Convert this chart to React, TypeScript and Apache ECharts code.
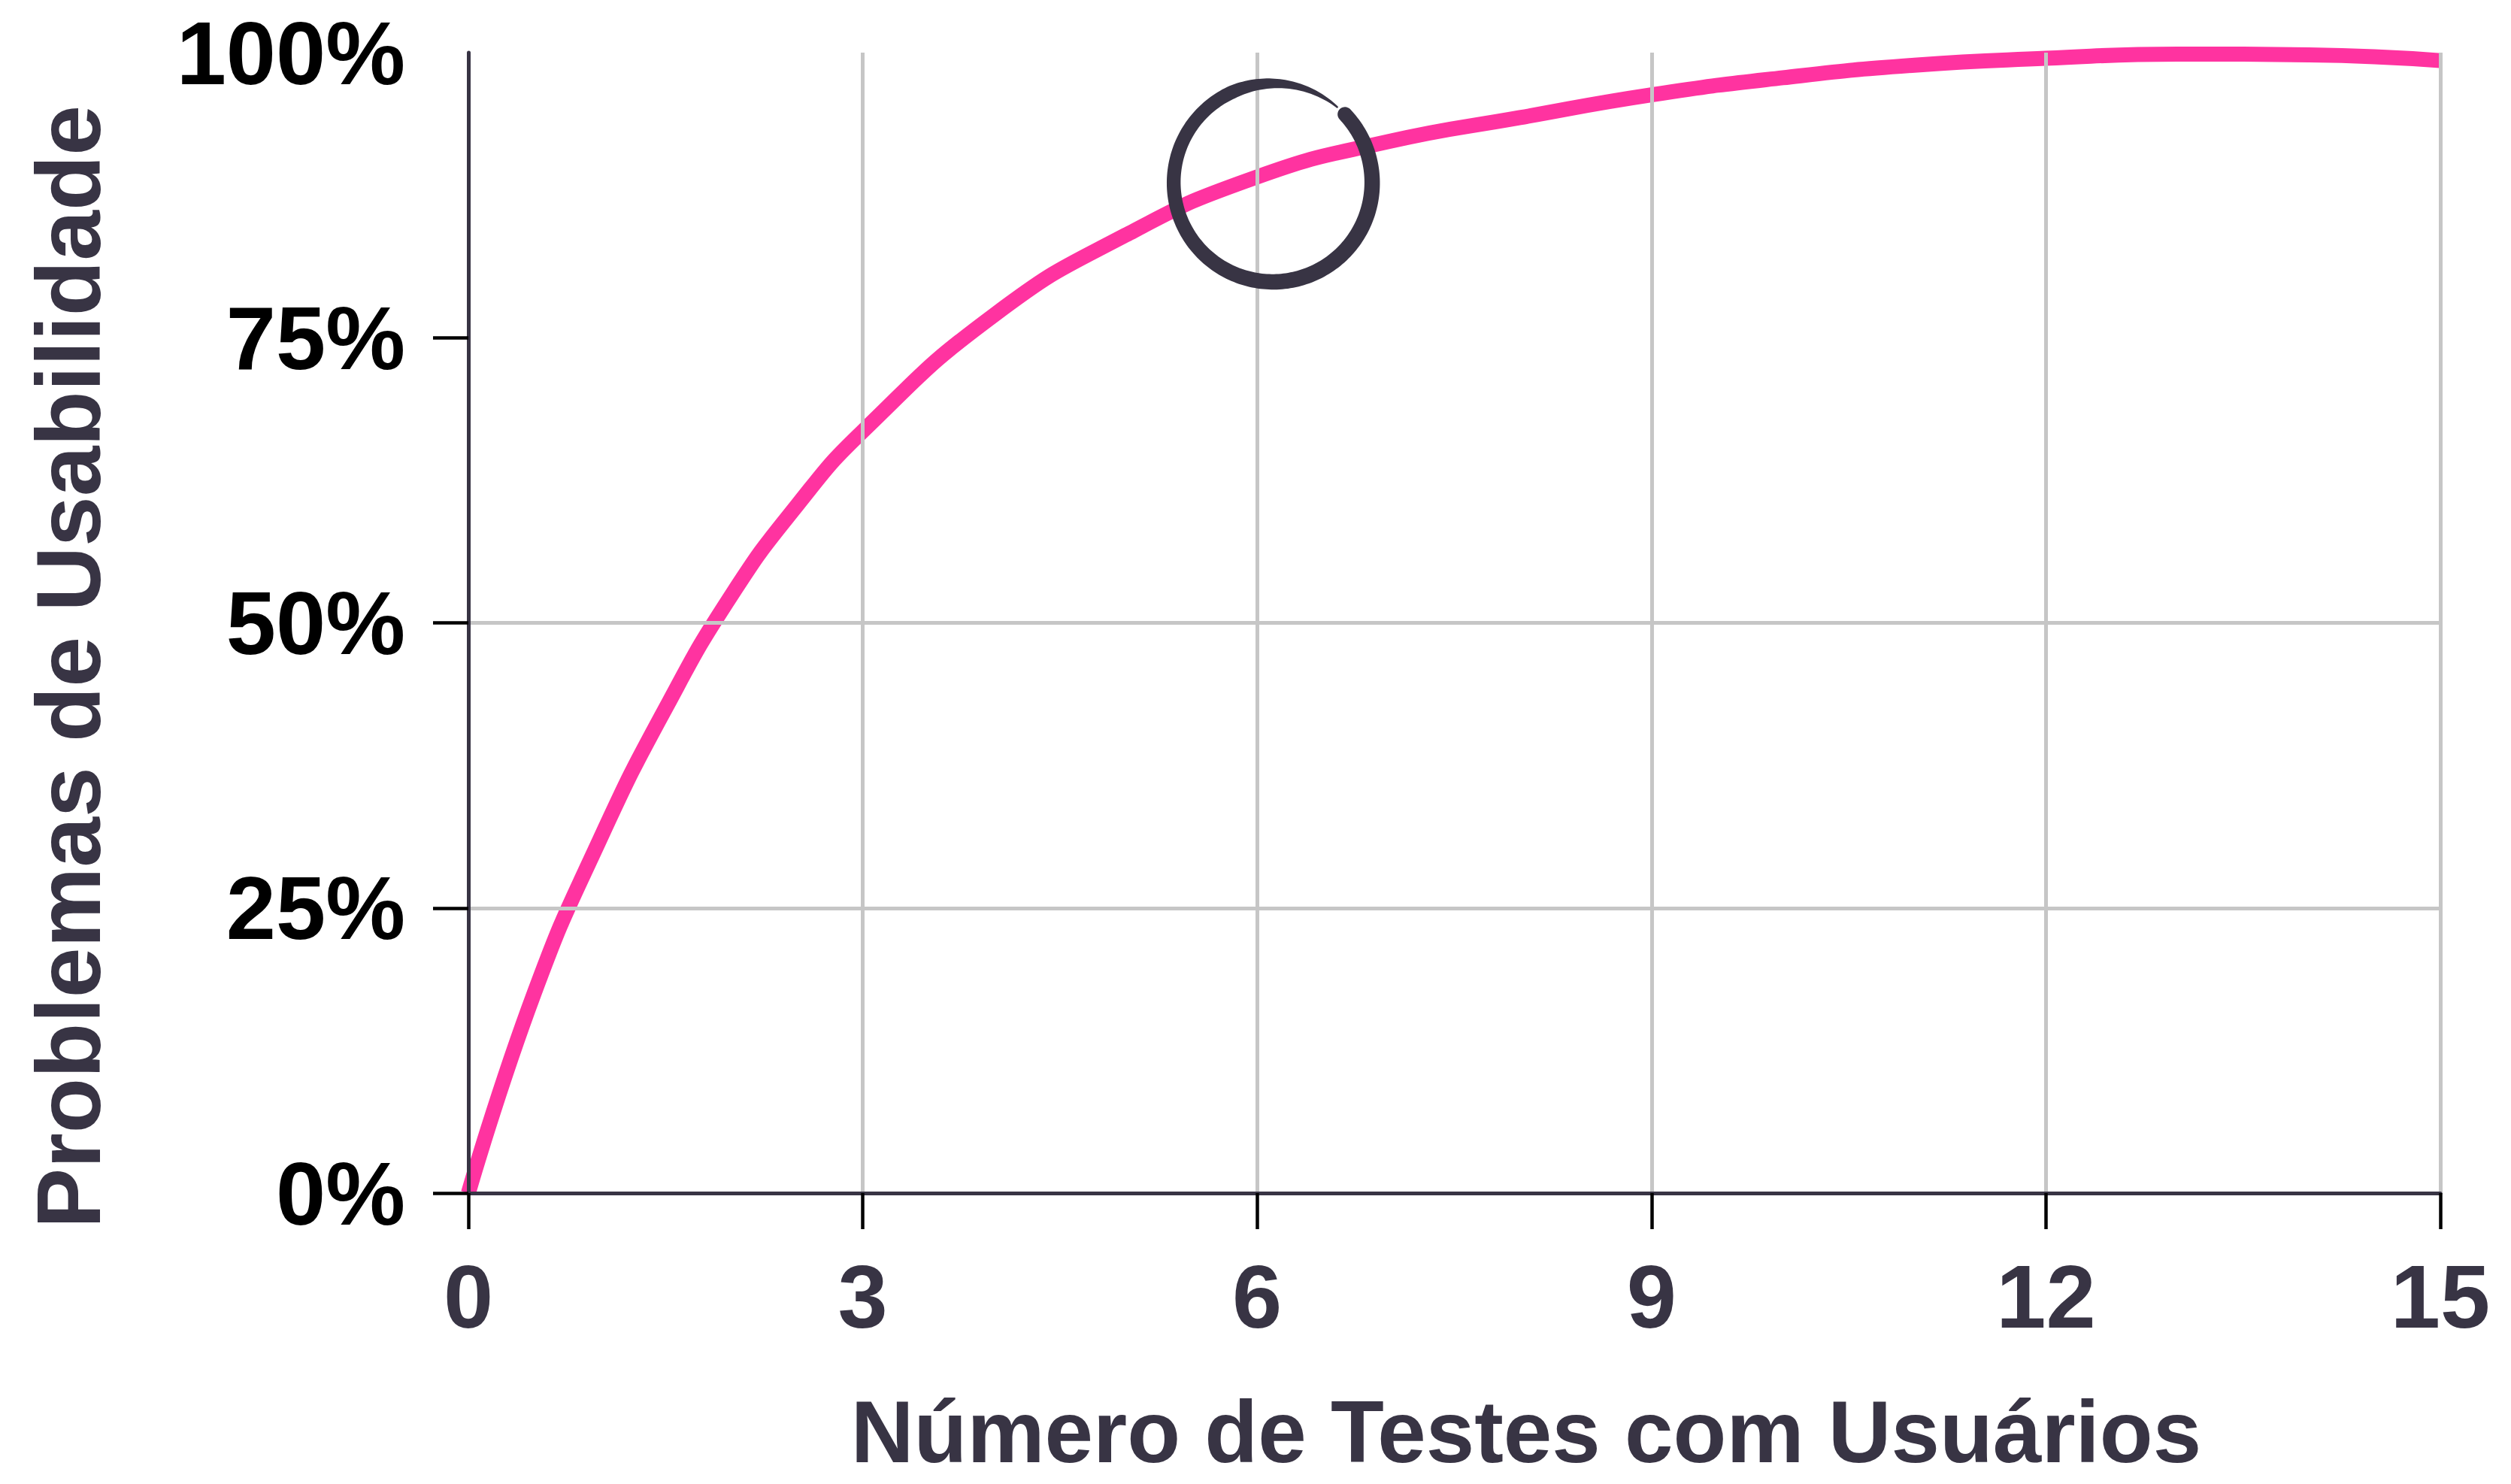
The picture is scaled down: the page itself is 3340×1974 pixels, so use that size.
import React, { useEffect, useRef } from "react";
import * as echarts from "echarts";

// Number of user tests (x) and share of usability problems found, in % (y)
const xValues = [0, 0.5, 1, 1.5, 2, 2.5, 3, 4, 5, 6, 7, 8, 9, 10, 11, 12, 13, 14, 15];
const yValues = [0, 17.5, 31, 42.5, 52.4, 60.3, 66.8, 77.0, 84.0, 89.1, 92.2, 94.3, 96.3, 97.8, 98.9, 99.5, 99.87, 99.8, 99.3];

const xMin = 0;
const xMax = 15;
const xInterval = 3;
const yMin = 0;
const yMax = 100;
const yInterval = 25;
const yTickValues = [0, 25, 50, 75];

const xTitle = "Número de Testes com Usuários";
const yTitle = "Problemas de Usabilidade";

// annotation circle centre (data coords)
const circleCenter = [6.12, 88.6];

const FONT = "'Liberation Sans', Arial, Helvetica, sans-serif";
const DARK = "#383444";
const PINK = "#ff33a0";
const GRID = "#c6c6c6";

function brushRing(r: number): number[][] {
  const N = 240;
  const s = -43.5;
  const e = 310.8;
  const width = (deg: number) => {
    let w = 19.5 + 1.5 * Math.cos(((deg - 45) * Math.PI) / 180);
    if (deg > 245) {
      const f = (deg - 245) / (e - 245);
      w *= 1 - 0.88 * Math.pow(f, 1.1);
    }
    return w;
  };
  const outer: number[][] = [];
  const inner: number[][] = [];
  for (let i = 0; i <= N; i++) {
    const deg = s + ((e - s) * i) / N;
    const t = (deg * Math.PI) / 180;
    const w = width(deg);
    outer.push([(r + w / 2) * Math.cos(t), (r + w / 2) * Math.sin(t)]);
    inner.push([(r - w / 2) * Math.cos(t), (r - w / 2) * Math.sin(t)]);
  }
  const pts = outer.concat(inner.reverse());
  // rounded start cap
  const t0 = (s * Math.PI) / 180;
  const w0 = width(s);
  const c = [r * Math.cos(t0), r * Math.sin(t0)];
  const radial = [Math.cos(t0), Math.sin(t0)];
  const back = [Math.sin(t0), -Math.cos(t0)];
  for (let k = 1; k < 16; k++) {
    const phi = (Math.PI * k) / 16;
    pts.push([
      c[0] + (w0 / 2) * (-Math.cos(phi) * radial[0] + Math.sin(phi) * back[0]),
      c[1] + (w0 / 2) * (-Math.cos(phi) * radial[1] + Math.sin(phi) * back[1]),
    ]);
  }
  return pts;
}

export default function App() {
  const ref = useRef<HTMLDivElement>(null);

  useEffect(() => {
    document.body.style.margin = "0";
    if (!ref.current) return;
    const chart = echarts.init(ref.current, null, { renderer: "svg" });

    const option: any = {
      animation: false,
      backgroundColor: "#ffffff",
      grid: { left: 623, top: 70, width: 2623, height: 1517, containLabel: false },
      xAxis: {
        type: "value",
        min: xMin,
        max: xMax,
        interval: xInterval,
        z: 3,
        axisLine: { show: true, lineStyle: { color: DARK, width: 5 } },
        axisTick: { show: true, length: 48, lineStyle: { color: "#000", width: 4.5 } },
        axisLabel: {
          margin: 78,
          color: DARK,
          fontSize: 119,
          fontWeight: "bold",
          fontFamily: FONT,
        },
        splitLine: {
          show: true,
          showMinLine: false,
          showMaxLine: true,
          lineStyle: { color: GRID, width: 5 },
        },
      },
      yAxis: {
        type: "value",
        min: yMin,
        max: yMax,
        interval: yInterval,
        z: 3,
        axisLine: { show: true, lineStyle: { color: DARK, width: 5 } },
        axisTick: {
          show: true,
          length: 47,
          customValues: yTickValues,
          lineStyle: { color: "#000", width: 4.5 },
        },
        axisLabel: {
          margin: 84,
          color: "#000",
          fontSize: 119,
          fontWeight: "bold",
          fontFamily: FONT,
          formatter: "{value}%",
        },
        splitLine: {
          show: true,
          showMinLine: false,
          showMaxLine: false,
          lineStyle: { color: GRID, width: 5 },
        },
      },
      series: [
        {
          type: "line",
          data: xValues.map((x, i) => [x, yValues[i]]),
          symbol: "none",
          showSymbol: false,
          smooth: 0.5,
          clip: false,
          z: 2,
          lineStyle: { color: PINK, width: 20, cap: "butt" },
        },
      ],
    };
    chart.setOption(option);

    const c = chart.convertToPixel({ gridIndex: 0 }, circleCenter) as number[];
    chart.setOption({
      graphic: [
        {
          type: "text",
          x: 2030,
          y: 1905,
          z: 10,
          style: {
            text: xTitle,
            fill: DARK,
            fontSize: 116,
            fontWeight: "bold",
            fontFamily: FONT,
            align: "center",
            verticalAlign: "middle",
            textAlign: "center",
            textVerticalAlign: "middle",
          },
        },
        {
          type: "text",
          x: 91,
          y: 887,
          rotation: Math.PI / 2,
          z: 10,
          style: {
            text: yTitle,
            fill: DARK,
            fontSize: 120,
            fontWeight: "bold",
            fontFamily: FONT,
            align: "center",
            verticalAlign: "middle",
            textAlign: "center",
            textVerticalAlign: "middle",
          },
        },
        {
          type: "polygon",
          x: c[0],
          y: c[1],
          z: 10,
          shape: { points: brushRing(132) },
          style: { fill: DARK },
        },
      ],
    });

    return () => chart.dispose();
  }, []);

  return <div ref={ref} style={{ width: 3340, height: 1974 }} />;
}
